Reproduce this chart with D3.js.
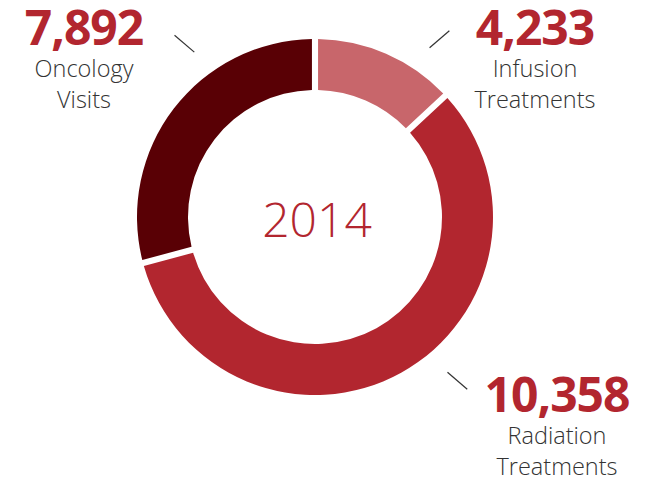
<!DOCTYPE html>
<html lang="en">
<head>
    <title>2014 Donut</title>
    <script src="https://d3js.org/d3.v7.min.js"></script>
    <style>
        body { margin: 0; background: #fff; }
        text { font-family: "Open Sans", sans-serif; }
        .num { font-weight: 700; fill: #b2262f; }
        .lbl { font-weight: 300; fill: #333; }
    </style>
</head>
<body>

<script>
    // categories and figures
    const categories = ["Infusion", "Radiation", "Oncology"];
    const counts = [4233, 10358, 7892];
    const labelLines = [["Infusion", "Treatments"], ["Radiation", "Treatments"], ["Oncology", "Visits"]];
    // share of the ring each slice takes in the picture (percent)
    const ringShare = [12.8, 58.1, 29.1];
    const colors = ["#c8666b", "#b2262f", "#590005"];
    const year = "2014";

    const width = 645, height = 479;
    const cx = 315, cy = 217, outerR = 178, innerR = 127;

    // where each label block sits, and the angle of its leader tick
    const labelPos = [
        {x: 535, y: 45, tickAngle: 35, tickDir: -1},
        {x: 557, y: 412, tickAngle: 139, tickDir: 1},
        {x: 84, y: 45, tickAngle: 323, tickDir: 1}
    ];

    const svg = d3.select("body").append("svg")
            .attr("width", width).attr("height", height);

    const pie = d3.pie().sort(null).value(d => d).padAngle(0.028);
    const arc = d3.arc().innerRadius(innerR).outerRadius(outerR);

    const g = svg.append("g").attr("transform", `translate(${cx},${cy})`);

    g.selectAll("path")
            .data(pie(ringShare)).join("path")
            .attr("d", arc)
            .attr("fill", (d, i) => colors[i]);

    g.append("text")
            .attr("x", 2).attr("y", 20)
            .attr("text-anchor", "middle")
            .attr("font-size", 48)
            .attr("font-weight", 300)
            .attr("fill", "#b2262f")
            .text(year);

    // leader ticks
    const tickR = 217, tickLen = 13;
    svg.selectAll("line.tick")
            .data(labelPos).join("line")
            .attr("class", "tick")
            .attr("x1", d => cx + tickR * Math.sin(d.tickAngle * Math.PI / 180) - tickLen * 0.76)
            .attr("y1", d => cy - tickR * Math.cos(d.tickAngle * Math.PI / 180) - tickLen * 0.65 * d.tickDir)
            .attr("x2", d => cx + tickR * Math.sin(d.tickAngle * Math.PI / 180) + tickLen * 0.76)
            .attr("y2", d => cy - tickR * Math.cos(d.tickAngle * Math.PI / 180) + tickLen * 0.65 * d.tickDir)
            .attr("stroke", "#333")
            .attr("stroke-width", 1.2);

    const fmt = d3.format(",");
    const labels = svg.selectAll("g.label")
            .data(categories).join("g")
            .attr("class", "label")
            .attr("transform", (d, i) => `translate(${labelPos[i].x},${labelPos[i].y})`);

    labels.append("text")
            .attr("class", "num")
            .attr("text-anchor", "middle")
            .attr("font-size", 48)
            .attr("letter-spacing", -1)
            .text((d, i) => fmt(counts[i]));

    labels.each(function(d, i) {
        d3.select(this).selectAll("text.lbl")
                .data(labelLines[i]).join("text")
                .attr("class", "lbl")
                .attr("text-anchor", "middle")
                .attr("font-size", 23.5)
                .attr("y", (t, j) => 32 + j * 31)
                .text(t => t);
    });
</script>

</body>
</html>
